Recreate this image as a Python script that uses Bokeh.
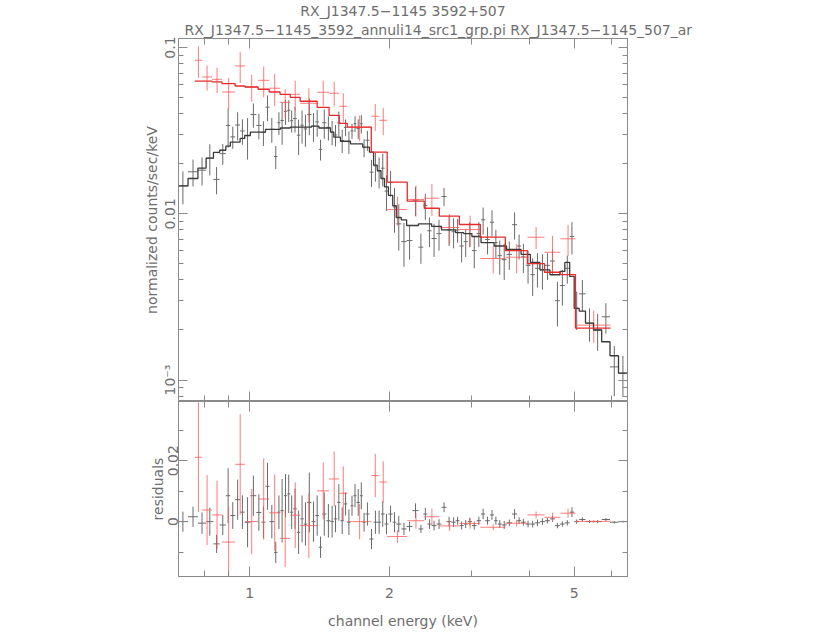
import numpy as np
from bokeh.plotting import figure
from bokeh.layouts import column
from bokeh.models import FixedTicker, LogAxis, LinearAxis, Range1d, Title
from bokeh.embed import file_html
from bokeh.resources import INLINE

# ---------------- data ----------------
title_main = "RX_J1347.5−1145 3592+507"
title_sub = "RX_J1347.5−1145_3592_annuli14_src1_grp.pi RX_J1347.5−1145_507_ar"

# dataset 1 (black): channel-energy bin edges (keV), data, 1-sigma error, model
black_edges = [0.700, 0.737, 0.774, 0.806, 0.836, 0.862, 0.889, 0.909, 0.931, 0.954,
               0.976, 1.004, 1.034, 1.060, 1.082, 1.104, 1.129, 1.148, 1.165, 1.185,
               1.205, 1.223, 1.241, 1.264, 1.286, 1.308, 1.330, 1.359, 1.386, 1.410,
               1.433, 1.463, 1.493, 1.518, 1.544, 1.569, 1.596, 1.623, 1.649, 1.674,
               1.699, 1.728, 1.752, 1.776, 1.811, 1.849, 1.883, 1.918, 1.952, 1.990,
               2.033, 2.069, 2.121, 2.178, 2.242, 2.310, 2.366, 2.413, 2.465, 2.526,
               2.589, 2.655, 2.721, 2.777, 2.831, 2.890, 2.948, 3.010, 3.081, 3.150,
               3.215, 3.291, 3.360, 3.420, 3.492, 3.574, 3.673, 3.766, 3.841, 3.930,
               4.023, 4.114, 4.217, 4.323, 4.432, 4.543, 4.655, 4.772, 4.888, 4.998,
               5.123, 5.286, 5.500, 5.728, 5.969, 6.226, 6.501]
black_data = [0.0147, 0.0179, 0.0183, 0.0216, 0.0161, 0.0230, 0.0340, 0.0290, 0.0342, 0.0315,
              0.0294, 0.0395, 0.0340, 0.0308, 0.0438, 0.0322, 0.0221, 0.0353, 0.0364, 0.0413,
              0.0419, 0.0363, 0.0374, 0.0297, 0.0341, 0.0324, 0.0395, 0.0337, 0.0357, 0.0244,
              0.0353, 0.0331, 0.0310, 0.0298, 0.0352, 0.0276, 0.0331, 0.0271, 0.0315, 0.0348,
              0.0326, 0.0348, 0.0250, 0.0277, 0.0178, 0.0194, 0.0180, 0.0188, 0.0137, 0.0154,
              0.0110, 0.0087, 0.0068, 0.0069, 0.0121, 0.0063, 0.0112, 0.0079, 0.0071, 0.0076,
              0.0127, 0.0080, 0.0078, 0.0080, 0.0064, 0.0068, 0.0076, 0.0060, 0.0076, 0.0092,
              0.0070, 0.0089, 0.0067, 0.0056, 0.0053, 0.0057, 0.0086, 0.0064, 0.0055, 0.0049,
              0.0043, 0.0047, 0.0046, 0.0049, 0.0052, 0.0030, 0.0037, 0.0047, 0.0073, 0.0027,
              0.0033, 0.0022, 0.0020, 0.0024, 0.0012, 0.0011]
black_err = [0.0033, 0.0033, 0.0035, 0.0046, 0.0030, 0.0033, 0.0090, 0.0044, 0.0066, 0.0055,
             0.0082, 0.0066, 0.0060, 0.0052, 0.0077, 0.0055, 0.0035, 0.0055, 0.0104, 0.0071,
             0.0063, 0.0055, 0.0066, 0.0071, 0.0077, 0.0071, 0.0098, 0.0066, 0.0066, 0.0035,
             0.0071, 0.0055, 0.0052, 0.0044, 0.0060, 0.0044, 0.0038, 0.0042, 0.0033, 0.0038,
             0.0044, 0.0044, 0.0031, 0.0038, 0.0033, 0.0038, 0.0038, 0.0042, 0.0033, 0.0027,
             0.0033, 0.0027, 0.0020, 0.0016, 0.0024, 0.0013, 0.0020, 0.0016, 0.0016, 0.0016,
             0.0016, 0.0016, 0.0016, 0.0013, 0.0013, 0.0013, 0.0013, 0.0013, 0.0013, 0.0017,
             0.0013, 0.0016, 0.0013, 0.0013, 0.0013, 0.0011, 0.0016, 0.0011, 0.0011, 0.0011,
             0.0011, 0.0011, 0.0011, 0.0009, 0.0009, 0.0009, 0.0009, 0.0009, 0.0016, 0.0007,
             0.0007, 0.0005, 0.0005, 0.0005, 0.0004, 0.0003]
black_model = [0.0147, 0.0163, 0.0188, 0.0216, 0.0234, 0.0241, 0.0255, 0.0270, 0.0270, 0.0284,
               0.0296, 0.0310, 0.0310, 0.0310, 0.0322, 0.0322, 0.0322, 0.0322, 0.0328, 0.0328,
               0.0328, 0.0332, 0.0332, 0.0332, 0.0332, 0.0332, 0.0332, 0.0337, 0.0337, 0.0328,
               0.0328, 0.0328, 0.0310, 0.0289, 0.0289, 0.0273, 0.0273, 0.0273, 0.0263, 0.0263,
               0.0263, 0.0263, 0.0252, 0.0252, 0.0235, 0.0196, 0.0182, 0.0163, 0.0145, 0.0129,
               0.0112, 0.0095, 0.0092, 0.0085, 0.0085, 0.0087, 0.0087, 0.0087, 0.0084, 0.0084,
               0.0080, 0.0080, 0.0080, 0.0077, 0.0077, 0.0076, 0.0076, 0.0073, 0.0073, 0.0067,
               0.0067, 0.0067, 0.0064, 0.0064, 0.0064, 0.0061, 0.0061, 0.0061, 0.0057, 0.0057,
               0.0051, 0.0051, 0.0046, 0.0046, 0.0043, 0.0043, 0.0045, 0.0051, 0.0042, 0.0027,
               0.0026, 0.0022, 0.0020, 0.0017, 0.0014, 0.0011]

# dataset 2 (red)
red_edges = [0.762, 0.790, 0.830, 0.872, 0.931, 0.978, 1.043, 1.102, 1.163, 1.223,
             1.285, 1.398, 1.483, 1.559, 1.623, 1.828, 1.901, 1.978, 2.185, 2.377,
             2.561, 2.829, 3.139, 3.553, 3.963, 4.313, 4.667, 5.030, 5.984]
red_data = [0.0838, 0.0665, 0.0644, 0.0540, 0.0775, 0.0579, 0.0635, 0.0569, 0.0468, 0.0523,
            0.0462, 0.0538, 0.0531, 0.0443, 0.0332, 0.0386, 0.0365, 0.0106, 0.0122, 0.0124,
            0.00827, 0.00804, 0.00538, 0.00548, 0.00723, 0.00587, 0.00707, 0.00214]
red_err = [0.0180, 0.0115, 0.0112, 0.0116, 0.0165, 0.0107, 0.0133, 0.0125, 0.0094, 0.0108,
           0.0106, 0.0093, 0.0090, 0.0088, 0.0058, 0.0071, 0.0068, 0.0021, 0.0026, 0.0027,
           0.0017, 0.0017, 0.0010, 0.0011, 0.0011, 0.0015, 0.0015, 0.00047]
red_model = [0.0627, 0.0627, 0.0622, 0.0607, 0.0587, 0.0579, 0.0561, 0.0540, 0.0523, 0.0502,
             0.0475, 0.0437, 0.0391, 0.0350, 0.0332, 0.0235, 0.0235, 0.0155, 0.0119, 0.0108,
             0.00967, 0.00862, 0.00723, 0.00601, 0.00502, 0.00445, 0.00431, 0.00205]

# ticks
x_major = [1, 2, 5]
x_minor = [0.7, 0.8, 0.9, 3, 4, 6]
x_labels = {1: "1", 2: "2", 5: "5"}
y_major = [0.001, 0.01, 0.1]
y_minor = [0.0008, 0.0009, 0.002, 0.003, 0.004, 0.005, 0.006, 0.007, 0.008, 0.009,
           0.02, 0.03, 0.04, 0.05, 0.06, 0.07, 0.08, 0.09]
y_labels = {0.001: "10⁻³", 0.01: "0.01", 0.1: "0.1"}
r_major = [0.0, 0.02]
r_minor = [-0.01, 0.01, 0.03]
r_labels = {0: "0", 0.02: "0.02"}

# ---------------- styling ----------------
FRAME = "#8a8a8a"
TXT = "#6e6e6e"
FONT = "DejaVu Sans"
BLK_D = "#6a6a6a"
BLK_M = "#3a3a3a"
RED_D = "#ff5a5a"
RED_M = "#e82a2a"


def split(edges, data, err, model):
    e = np.array(edges, dtype=float)
    n = min(len(e) - 1, len(data), len(err), len(model))
    lo, hi = e[:n], e[1:n + 1]
    return lo, hi, (lo + hi) / 2, np.array(data[:n], float), np.array(err[:n], float), np.array(model[:n], float)


bl, bh, bc, bd, be, bm = split(black_edges, black_data, black_err, black_model)
rl, rh, rc, rd, re_, rm = split(red_edges, red_data, red_err, red_model)


def style_axis(ax, maj_in, min_in):
    ax.axis_line_color = FRAME
    ax.major_tick_line_color = FRAME
    ax.minor_tick_line_color = FRAME
    ax.major_tick_in = maj_in
    ax.major_tick_out = 0
    ax.minor_tick_in = min_in
    ax.minor_tick_out = 0
    ax.major_label_text_color = TXT
    ax.major_label_text_font = FONT
    ax.major_label_text_font_size = "14px"
    ax.axis_label_text_color = TXT
    ax.axis_label_text_font = FONT
    ax.axis_label_text_font_style = "normal"
    ax.axis_label_text_font_size = "14px"


def hide_labels(ax):
    # frame-only axis: ticks, but no tick labels drawn
    ax.major_label_text_font_size = "1px"
    ax.major_label_text_color = None
    ax.major_label_standoff = 0
    ax.axis_label = None


common = dict(output_backend="svg", toolbar_location=None, frame_width=449,
              min_border_left=178, min_border_right=197,
              background_fill_color=None, border_fill_color=None,
              outline_line_color=FRAME)

# ---------------- top panel ----------------
top = figure(frame_height=363, x_axis_type="log", y_axis_type="log",
             x_range=Range1d(0.703, 6.51), y_range=Range1d(7.43e-4, 0.1133),
             min_border_top=35, min_border_bottom=0, **common)
top.grid.visible = False

xb = top.xaxis[0]
xb.ticker = FixedTicker(ticks=x_major, minor_ticks=x_minor)
style_axis(xb, 10, 6)
hide_labels(xb)

yl = top.yaxis[0]
yl.ticker = FixedTicker(ticks=y_major, minor_ticks=y_minor)
style_axis(yl, 9, 5)
yl.major_label_overrides = y_labels
yl.major_label_orientation = "vertical"
yl.major_label_standoff = 0
yl.axis_label = "normalized counts/sec/keV"
yl.axis_label_standoff = 0

yr = LogAxis(ticker=FixedTicker(ticks=y_major, minor_ticks=y_minor))
style_axis(yr, 9, 5)
hide_labels(yr)
top.add_layout(yr, "right")

xa = LogAxis(ticker=FixedTicker(ticks=x_major, minor_ticks=x_minor))
style_axis(xa, 10, 6)
hide_labels(xa)
top.add_layout(xa, "above")

top.add_layout(Title(text=title_sub, align="left", text_font=FONT, text_font_size="14px",
                     text_font_style="normal", text_color=TXT, standoff=2, offset=6), "above")
top.add_layout(Title(text=title_main, align="center", text_font=FONT, text_font_size="14px",
                     text_font_style="normal", text_color=TXT, standoff=0), "above")

# data crosses
top.segment(x0=bl, y0=bd, x1=bh, y1=bd, line_color=BLK_D, line_width=1)
top.segment(x0=bc, y0=bd - be, x1=bc, y1=bd + be, line_color=BLK_D, line_width=1)
top.segment(x0=rl, y0=rd, x1=rh, y1=rd, line_color=RED_D, line_width=1, line_alpha=0.8)
top.segment(x0=rc, y0=rd - re_, x1=rc, y1=rd + re_, line_color=RED_D, line_width=1, line_alpha=0.8)
# folded models (histogram steps)
top.step(x=np.append(bl, bh[-1]), y=np.append(bm, bm[-1]), mode="after",
         line_color=BLK_M, line_width=1.3)
top.step(x=np.append(rl, rh[-1]), y=np.append(rm, rm[-1]), mode="after",
         line_color=RED_M, line_width=1.3)

# ---------------- residual panel ----------------
bot = figure(frame_height=175, x_axis_type="log", x_range=top.x_range,
             y_range=Range1d(-0.0180, 0.0394),
             min_border_top=0, min_border_bottom=0, **common)
bot.grid.visible = False

xb2 = bot.xaxis[0]
xb2.ticker = FixedTicker(ticks=x_major, minor_ticks=x_minor)
style_axis(xb2, 10, 6)
xb2.major_label_overrides = x_labels
xb2.major_label_standoff = 11
xb2.axis_label = "channel energy (keV)"
xb2.axis_label_standoff = 12

yl2 = bot.yaxis[0]
yl2.ticker = FixedTicker(ticks=r_major, minor_ticks=r_minor)
style_axis(yl2, 9, 5)
yl2.major_label_overrides = r_labels
yl2.major_label_orientation = "vertical"
yl2.major_label_standoff = 0
yl2.axis_label = "residuals"
yl2.axis_label_standoff = 0

yr2 = LinearAxis(ticker=FixedTicker(ticks=r_major, minor_ticks=r_minor))
style_axis(yr2, 9, 5)
hide_labels(yr2)
bot.add_layout(yr2, "right")

xa2 = LogAxis(ticker=FixedTicker(ticks=x_major, minor_ticks=x_minor))
style_axis(xa2, 10, 6)
hide_labels(xa2)
bot.add_layout(xa2, "above")

b_res = bd - bm
r_res = rd - rm
bot.segment(x0=bl, y0=b_res, x1=bh, y1=b_res, line_color=BLK_D, line_width=1)
bot.segment(x0=bc, y0=b_res - be, x1=bc, y1=b_res + be, line_color=BLK_D, line_width=1)
bot.segment(x0=rl, y0=r_res, x1=rh, y1=r_res, line_color=RED_D, line_width=1, line_alpha=0.8)
bot.segment(x0=rc, y0=r_res - re_, x1=rc, y1=r_res + re_, line_color=RED_D, line_width=1, line_alpha=0.8)

layout = column(top, bot, spacing=0)

open("out.html", "w", encoding="utf-8").write(file_html(layout, INLINE))
